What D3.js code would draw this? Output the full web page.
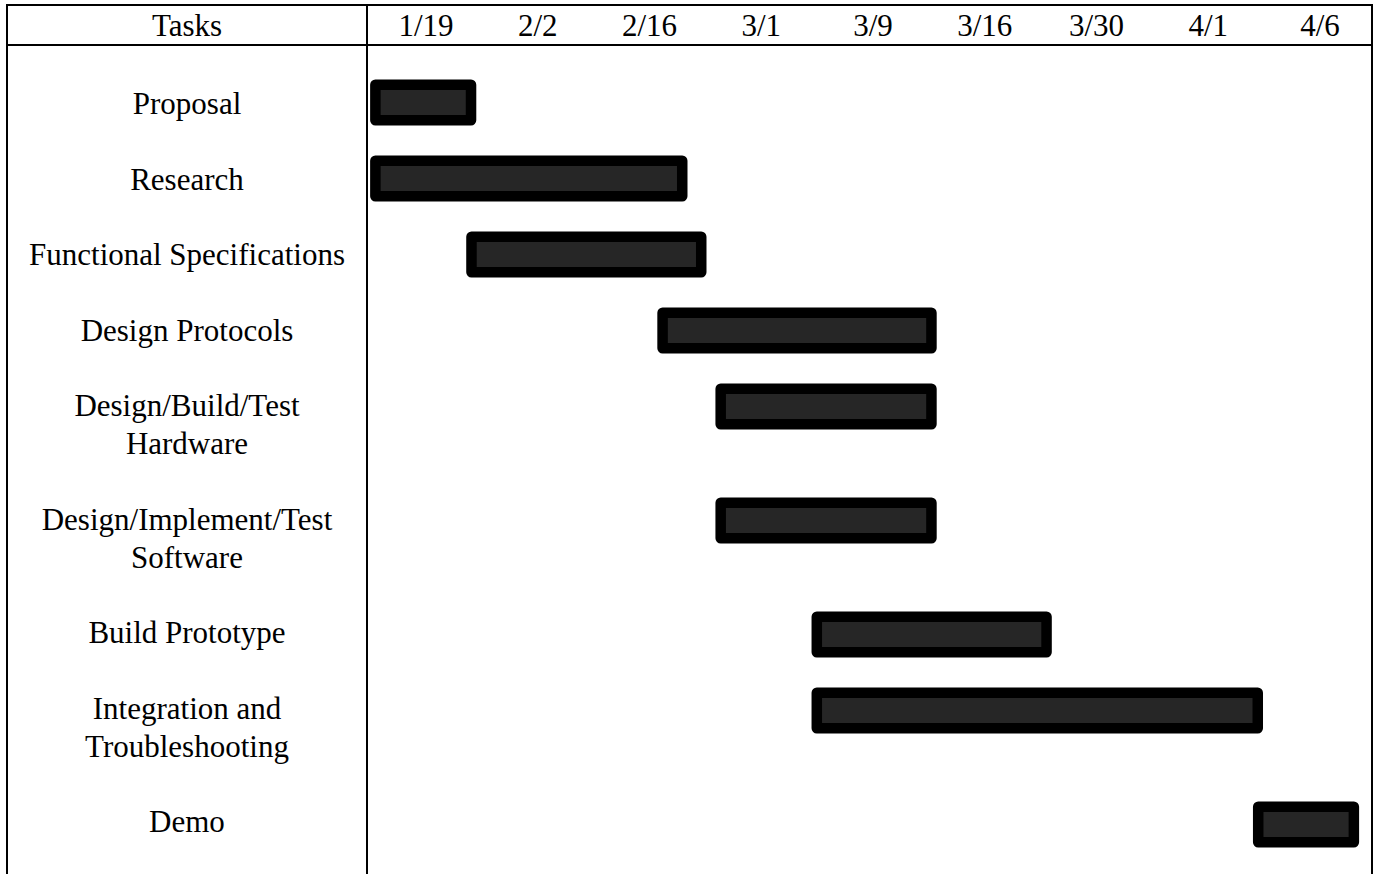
<!DOCTYPE html>
<html>
<head>
<meta charset="utf-8">
<script src="https://cdn.jsdelivr.net/npm/d3@7"></script>
<style>
  html, body { margin: 0; padding: 0; background: #fff; }
  svg { display: block; }
  text { font-family: "Liberation Serif", "Times New Roman", serif; fill: #000; }
</style>
</head>
<body>
<svg id="chart" width="1377" height="874"></svg>
<script>
// ---- data ----
const headerTitle = "Tasks";
const dateLabels = ["1/19", "2/2", "2/16", "3/1", "3/9", "3/16", "3/30", "4/1", "4/6"];
const tasks = [
  "Proposal",
  "Research",
  "Functional Specifications",
  "Design Protocols",
  "Design/Build/Test\nHardware",
  "Design/Implement/Test\nSoftware",
  "Build Prototype",
  "Integration and\nTroubleshooting",
  "Demo"
];
// start / end of each bar, in date-column units (0 = start of the 1/19 column)
const taskStart = [0, 0, 0.86, 2.57, 3.09, 3.09, 3.95, 3.95, 7.90];
const taskEnd   = [0.95, 2.84, 3.01, 5.07, 5.07, 5.07, 6.10, 7.99, 8.85];

// ---- layout ----
const W = 1377, H = 874;
const leftX = 7, divX = 367, rightX = 1372;
const topY = 5, headY = 45;
const fontSize = 31;
const svg = d3.select("#chart");

// x scale over date columns
const x = d3.scaleLinear().domain([0.5, dateLabels.length - 0.5]).range([426, 1320]);

// line-index layout for task labels (each task: its lines + one blank line)
const taskLines = tasks.map(t => t.split("\n"));
const lineStart = [];
let acc = 0;
taskLines.forEach(ls => { lineStart.push(acc); acc += ls.length + 1; });
const yLine = d3.scaleLinear().domain([0, 19]).range([114, 114 + 19 * 37.8]);
const yBar = d3.scaleLinear().domain([0, 19]).range([102.5, 102.5 + 19 * 38]);

// ---- table lines ----
const g = svg.append("g");
g.append("line").attr("x1", leftX).attr("x2", rightX).attr("y1", topY).attr("y2", topY);
g.append("line").attr("x1", leftX).attr("x2", rightX).attr("y1", headY).attr("y2", headY);
[leftX, divX, rightX].forEach(v =>
  g.append("line").attr("x1", v).attr("x2", v).attr("y1", topY - 1).attr("y2", H));
g.selectAll("line").attr("stroke", "#000").attr("stroke-width", 2);

// ---- header ----
svg.append("text").attr("x", (leftX + divX) / 2).attr("y", 36)
  .attr("text-anchor", "middle").attr("font-size", fontSize).text(headerTitle);
svg.selectAll("text.date").data(dateLabels).join("text")
  .attr("class", "date")
  .attr("x", (d, i) => x(i + 0.5)).attr("y", 36)
  .attr("text-anchor", "middle").attr("font-size", fontSize).text(d => d);

// ---- task labels ----
const lab = svg.selectAll("text.task").data(taskLines).join("text")
  .attr("class", "task")
  .attr("text-anchor", "middle").attr("font-size", fontSize);
lab.selectAll("tspan").data((d, i) => d.map((s, j) => ({ s, line: lineStart[i] + j })))
  .join("tspan")
  .attr("x", (leftX + divX) / 2)
  .attr("y", d => yLine(d.line))
  .text(d => d.s);

// ---- bars ----
const sw = 10.5, barH = 46;
svg.selectAll("rect.bar").data(tasks).join("rect")
  .attr("class", "bar")
  .attr("x", (d, i) => x(taskStart[i]) + sw / 2)
  .attr("width", (d, i) => x(taskEnd[i]) - x(taskStart[i]) - sw)
  .attr("y", (d, i) => yBar(lineStart[i]) - barH / 2 + sw / 2)
  .attr("height", barH - sw)
  .attr("fill", "#262626")
  .attr("stroke", "#000")
  .attr("stroke-width", sw)
  .attr("stroke-linejoin", "round");
</script>
</body>
</html>
